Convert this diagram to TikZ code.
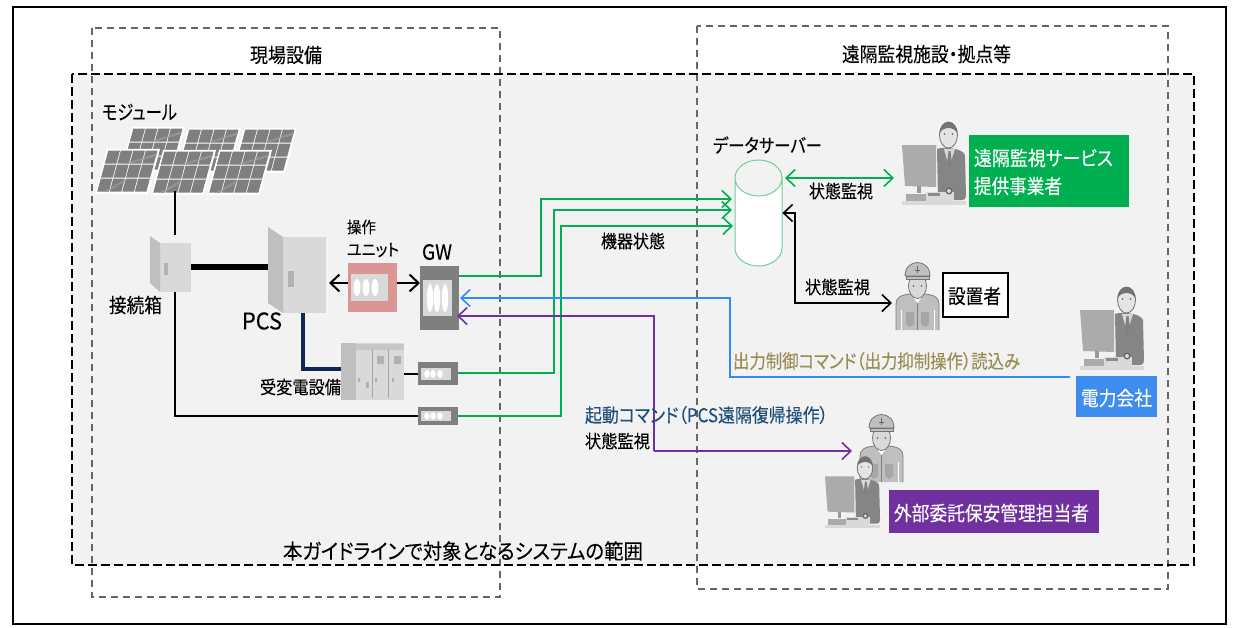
\documentclass[tikz,border=0pt]{standalone}
\usepackage{graphicx}
\usepackage{fontspec}
\setmainfont[RawFeature=+palt,FakeBold=0.12]{Noto Sans CJK JP}
\usetikzlibrary{arrows.meta}
\definecolor{grn}{HTML}{00B050}
\definecolor{srvedge}{HTML}{6FCF97}
\definecolor{blu}{HTML}{2E8BFF}
\definecolor{bluebox}{HTML}{3F8CEF}
\definecolor{pur}{HTML}{7030A0}
\definecolor{navy}{HTML}{10294D}
\definecolor{olivetxt}{HTML}{9A8C52}
\definecolor{navytxt}{HTML}{1F4E79}
\definecolor{bgarea}{HTML}{F2F2F2}
\definecolor{cabA}{HTML}{D9D9D9}
\definecolor{cabB}{HTML}{BFBFBF}
\definecolor{devdark}{HTML}{7F7F7F}
\definecolor{pinkunit}{HTML}{DA9694}
\newcommand{\fw}[3]{\resizebox{#1pt}{\height}{\fontsize{#2pt}{#2pt}\selectfont #3}}
\tikzset{
  x=1pt,y=-1pt,
  lbl/.style={inner sep=0pt,outer sep=0pt,anchor=west,text=black},
  conn/.style={line width=1.7pt},
  barbtip/.tip={Straight Barb[length=9pt,width=17pt,line width=1.6pt]},
  tipped/.style={-barbtip},
  gline/.style={conn,grn,tipped},
  dbox/.style={draw=black!60,dash pattern=on 7pt off 5pt,line width=1.2pt},
  ebox/.style={inner sep=0pt,outer sep=0pt,anchor=north west},
  spot/.style={fill=white,draw=none},
  pvpanel/.pic={
    \begin{scope}[xslant=0.27]
    \fill[white] (-1.2,-1.2) rectangle (51.8,43.8);
    \foreach \i in {0,1,2,3}{\foreach \j in {0,1,2}{
      \fill[devdark] ({\i*12.5+0.5},{\j*14+0.5}) rectangle ++(11.6,13);
    }}
    \fill[black!38,opacity=.7] (6,42) -- (24,30) -- (27,30) -- (11,42) -- cycle;
    \fill[black!38,opacity=.7] (20,14) -- (50,3) -- (50,6) -- (24,14) -- cycle;
    \end{scope}
  },
  pcman/.pic={
    \fill[cabA] (0,-4) rectangle (64,0);
    \fill[black!48] (35,-56) .. controls (38,-58) and (60,-58) .. (63,-50)
      -- (64,-9) .. controls (64,-6) and (62,-5) .. (60,-5) -- (36,-5) -- cycle;
    \fill[cabA] (42,-56) -- (47,-38) -- (53,-56) -- cycle;
    \fill[black!50] (46.5,-54) -- (45,-42) -- (47.5,-36) -- (50,-42) -- (48.5,-54) -- cycle;
    \filldraw[fill=cabA!70!white,draw=black!55,line width=.8pt] (46.5,-70) ellipse [x radius=9,y radius=13];
    \fill[black!55] (37.5,-71) .. controls (37.5,-87) and (55.5,-87) .. (55.5,-71)
       .. controls (53,-79) and (40,-79) .. (37.5,-71) -- cycle;
    \fill[black!65] (42.5,-71) circle (.8) (50.5,-71) circle (.8);
    \fill[black!33] (0,-60) -- (34,-60) -- (34,-18) -- (3,-19) -- cycle;
    \fill[black!40] (15,-19) rectangle (19,-12);
    \fill[black!33] (4,-11) rectangle (24,-4);
    \fill[cabA] (24,-13) rectangle (52,-4);
    \fill[black!45] (26,-12) rectangle (38,-9);
    \fill[black!60] (47,-14) circle (3.5);
    \fill[cabA] (47,-14) circle (2);
  },
  workerman/.pic={
    \filldraw[fill=cabB,draw=black!50,line width=.8pt] (0,0) -- (0,-26) .. controls (0,-32) and (4,-35) .. (14,-36)
       -- (29,-36) .. controls (39,-35) and (43,-32) .. (43,-26) -- (43,0);
    \fill[white] (15,-36) -- (28,-36) -- (21.5,-27) -- cycle;
    \draw[black!50,line width=.7pt] (21.5,-27) -- (21.5,0);
    \fill[black!35] (10,-18) -- (18,-18) -- (18,-6) -- (14,-3) -- (10,-6) -- cycle;
    \fill[black!35] (25,-18) -- (33,-18) -- (33,-6) -- (29,-3) -- (25,-6) -- cycle;
    \draw[white,line width=.8pt] (5,-20) -- (5,0) (38,-20) -- (38,0);
    \filldraw[fill=cabA,draw=black!55,line width=.8pt] (21.5,-44) ellipse [x radius=9,y radius=12.5];
    \filldraw[fill=cabB,draw=black!55,line width=.8pt] (9,-54) .. controls (9,-72) and (34,-72) .. (34,-54) -- cycle;
    \filldraw[fill=cabB,draw=black!55,line width=.8pt] (10,-54) -- (33,-54) -- (33,-51) -- (10,-51) -- cycle;
    \draw[black!60,line width=.6pt] (21.5,-64) -- (21.5,-57) (19,-60) -- (24,-60);
    \fill[black!65] (17.5,-44) circle (.8) (25.5,-44) circle (.8);
  },
}
\begin{document}
\begin{tikzpicture}
\useasboundingbox (0,0) rectangle (1239,627);
\fill[white] (0,0) rectangle (1239,627);
\draw[black,line width=1.2pt] (13,7) rectangle (1226,624);
% scope areas
\fill[bgarea] (72,74) rectangle (1194,565);
\draw[dbox] (92,28) rectangle (500,597);
\draw[dbox] (697,26) rectangle (1168,589);
\draw[black,line width=1.5pt,dash pattern=on 9pt off 4pt] (72,74) rectangle (1194,565);

% module
\foreach \px/\py in {133/128,189/129,245/129,108/150,164/151,220/151}{
  \pic at (\px,\py) {pvpanel};
}
\node[inner sep=0pt,minimum width=170pt,minimum height=66pt] (module) at (195,158) {};

% devices (junction, PCS)
\node[fill=cabA,inner sep=0pt,minimum width=31pt,minimum height=49pt,anchor=north west] (junction) at (160,243) {};
\fill[cabB] (150,236) -- (160,243) -- (160,292) -- (150,283) -- cycle;
\fill[black!30] (164,263) rectangle (168,275);
\node[fill=cabA,inner sep=0pt,minimum width=43pt,minimum height=76pt,anchor=north west] (pcs) at (283,237) {};
\fill[cabB] (268,227) -- (283,237) -- (283,313) -- (268,303) -- cycle;
\fill[black!30] (288,271) rectangle (294,287);

% operation unit
\node[fill=pinkunit,inner sep=0pt,minimum width=49pt,minimum height=49pt,anchor=north west] (opunit) at (348,263) {};
\fill[cabA] (351,274) rectangle (388,301);
\foreach \c in {357,366,375}{\fill[spot] (\c,287.5) ellipse [x radius=3.5,y radius=8.5];}

% GW
\node[fill=devdark,inner sep=0pt,minimum width=39pt,minimum height=64pt,anchor=north west] (gw) at (420,266) {};
\fill[cabA] (423,280) rectangle (452,316);
\foreach \c in {430,437,445}{\fill[spot] (\c,298) ellipse [x radius=3.2,y radius=14];}

% substation equipment
\node[fill=cabA,inner sep=0pt,minimum width=63pt,minimum height=57pt,anchor=north west] (subst) at (341,343) {};
\fill[cabB] (341,343) rectangle (356,400);
\fill[black!22] (356,344) rectangle (404,350);
\draw[black!35,line width=1pt] (372,350) -- (372,398) (388,350) -- (388,398);
\fill[black!30] (377,356) rectangle (384,364) (394,356) rectangle (401,364);
\fill[black!30] (366,382) rectangle (369,388);
\fill[black!30] (358,378) rectangle (360,382) (375,378) rectangle (377,382) (392,378) rectangle (394,382);

% small gateways
\node[fill=devdark,inner sep=0pt,minimum width=40pt,minimum height=23pt,anchor=north west] (gwb) at (418,362) {};
\fill[cabA] (421,368) rectangle (451,380);
\foreach \c in {427,433,440}{\fill[spot] (\c,374) ellipse [x radius=2.8,y radius=4];}
\node[fill=devdark,inner sep=0pt,minimum width=40pt,minimum height=18pt,anchor=north west] (gwc) at (418,407) {};
\fill[cabA] (421,411) rectangle (451,421);
\foreach \c in {427,433,440}{\fill[spot] (\c,416) ellipse [x radius=2.8,y radius=3.5];}

% data server
\node[inner sep=0pt,minimum width=47pt,minimum height=106pt,anchor=north west] (server) at (735,160) {};
\draw[srvedge,fill=white,line width=1pt] (735,178) arc [start angle=180,end angle=360,x radius=23.5,y radius=-18]
   -- (782,248) arc [start angle=0,end angle=-180,x radius=23.5,y radius=-18] -- cycle;
\draw[srvedge,line width=1pt] (735,178) arc [start angle=180,end angle=360,x radius=23.5,y radius=18];

% people
\pic at (902,205) {pcman};
\pic at (1080,370) {pcman};
\pic at (896,330) {workerman};
\pic at (860,482) {workerman};
\pic[xscale=.86,yscale=.86] at (825,528) {pcman};
\coordinate (svcman) at (894,178);
\coordinate (instman) at (892,303);
\coordinate (elecman) at (1070,377);
\coordinate (mntman) at (852,451);

% role boxes
\node[ebox,fill=grn,minimum width=160pt,minimum height=72pt] (svcbox) at (969,135) {};
\node[lbl,text=white] (svcA) at (974,158) {\fw{139}{20}{遠隔監視サービス}};
\node[lbl,text=white] (svcB) at (974,186) {\fw{88}{20}{提供事業者}};
\node[ebox,fill=white,draw=black,line width=1.5pt,minimum width=65pt,minimum height=44pt] (instbox) at (943,273) {};
\node[lbl] (instt) at (948,296) {\fw{53}{20}{設置者}};
\node[ebox,fill=bluebox,minimum width=81pt,minimum height=41pt] (elecbox) at (1076,376) {};
\node[lbl,text=white] (elect) at (1081,398) {\fw{71}{20}{電力会社}};
\node[ebox,fill=pur,minimum width=210pt,minimum height=43pt] (mntbox) at (889,490) {};
\node[lbl,text=white] (mntt) at (894,513) {\fw{195}{20}{外部委託保安管理担当者}};

% connectors
\draw[black,line width=1.3pt] (module.south -| 175,0) -- (175,235);
\draw[black,line width=1.3pt] (junction.south -| 175,0) -- (175,416) -- (gwc.west |- 0,416);
\draw[black,line width=6pt] (junction.east |- 0,267) -- (268,267);
\draw[navy,line width=4pt] (pcs.south -| 303,0) -- (303,369) -- (subst.west |- 0,369);
\draw[black,line width=1.3pt] (subst.east |- 0,374) -- (gwb.west |- 0,374);
\draw[black,line width=2.2pt,-{Straight Barb[length=9pt,width=17pt,line width=2pt]}] (opunit.west |- 0,283) -- (329,283);
\draw[black,line width=2.2pt,-{Straight Barb[length=9pt,width=17pt,line width=2pt]}] (opunit.east |- 0,283) -- (gw.west |- 0,283);
\coordinate (srvA) at (732,199);
\coordinate (srvB) at (732,210);
\coordinate (srvC) at (733,226);
\coordinate (gwblue) at (460,298);
\coordinate (gwpur) at (457,316);
\draw[gline] (gw.east |- 0,276) -- (541,276) -- (541,199) -- (srvA);
\draw[gline] (gwb.east |- 0,373) -- (554,373) -- (554,210) -- (srvB);
\draw[gline] (gwc.east |- 0,416) -- (561,416) -- (561,226) -- (srvC);
\draw[gline,barbtip-barbtip] (785,178) -- (svcman);
\draw[conn,black,barbtip-barbtip] (server.east |- 0,213) -- (795,213) -- (795,303) -- (instman);
\draw[conn,blu,tipped] (elecman) -- (730,377) -- (730,298) -- (gwblue);
\draw[conn,pur,tipped] (654,451) -- (654,316) -- (gwpur);
\draw[conn,pur,tipped] (654,451) -- (mntman);

% texts
\node[lbl] (t1) at (250,55) {\fw{72}{20}{現場設備}};
\node[lbl] (t2) at (842,54) {\fw{169}{20}{遠隔監視施設・拠点等}};
\node[lbl] (t3) at (102,112) {\fw{75}{20}{モジュール}};
\node[lbl] (t4) at (109,305) {\fw{53}{20}{接続箱}};
\node[lbl] (t5) at (242,321) {\fw{40}{23}{PCS}};
\node[lbl] (t6) at (347,227) {\fw{29}{16}{操作}};
\node[lbl] (t7) at (347,250) {\fw{52}{17}{ユニット}};
\node[lbl] (t8) at (422,252) {\fw{30}{21}{GW}};
\node[lbl] (t9) at (260,387) {\fw{81}{18}{受変電設備}};
\node[lbl] (t10) at (713,145) {\fw{109}{19}{データサーバー}};
\node[lbl] (t11) at (809,191) {\fw{64}{18}{状態監視}};
\node[lbl] (t12) at (805,287) {\fw{65}{18}{状態監視}};
\node[lbl] (t13) at (601,241) {\fw{64}{18}{機器状態}};
\node[lbl,text=olivetxt] (t14) at (733,361) {\fw{287}{19}{出力制御コマンド（出力抑制操作）読込み}};
\node[lbl,text=navytxt] (t15) at (585,415) {\fw{243}{19}{起動コマンド（PCS遠隔復帰操作）}};
\node[lbl] (t16) at (585,441) {\fw{65}{18}{状態監視}};
\node[lbl] (t17) at (283,551) {\fw{360}{21}{本ガイドラインで対象となるシステムの範囲}};
\end{tikzpicture}
\end{document}
